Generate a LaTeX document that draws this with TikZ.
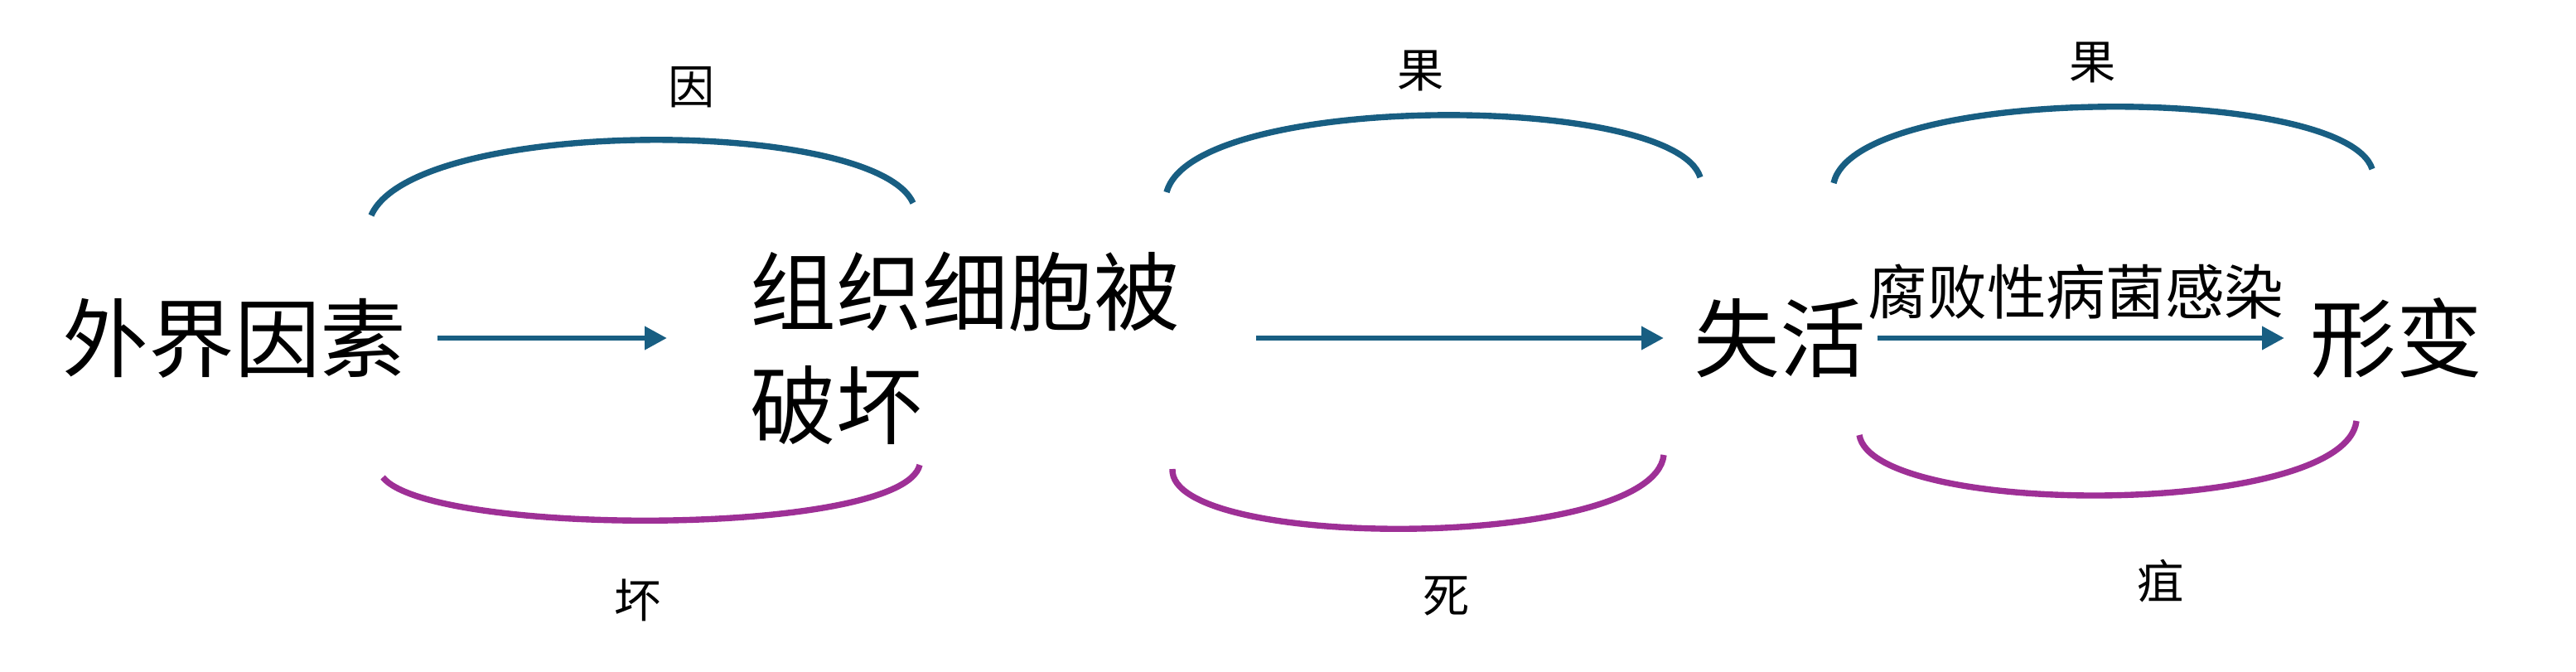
\documentclass[tikz,border=0pt]{standalone}
\usepackage{fontspec}
\setmainfont{Noto Sans CJK SC}
\usepackage{tikz}
\usetikzlibrary{arrows.meta, positioning}
\definecolor{arcblue}{RGB}{24,94,130}
\definecolor{arcpurple}{RGB}{158,48,150}
\tikzset{
    bigtext/.style={inner sep=0pt, align=left, anchor=west, font=\fontsize{29.5}{39}\selectfont},
    midtext/.style={inner sep=0pt, anchor=west, font=\fontsize{20.4}{24}\selectfont},
    smalltext/.style={inner sep=0pt, font=\fontsize{16}{19}\selectfont},
    arrow/.style={line width=1.9pt, arcblue, -{Triangle[length=0.27cm,width=0.27cm]}},
    upper/.style={line width=2.1pt, arcblue},
    lower/.style={line width=2.1pt, arcpurple}
}
\begin{document}
\begin{tikzpicture}
    \useasboundingbox (0,0) rectangle (31.09,8.10);

    \node (wai) [bigtext] at (0.75,4.02) {外界因素};
    \node (zuzhi) [bigtext] at (9.05,3.90) {组织细胞被\\破坏};
    \node (shihuo) [bigtext] at (20.44,4.02) {失活};
    \node (xingbian) [bigtext] at (27.88,4.02) {形变};
    \node (ganran) [midtext] at (22.54,4.58) {腐败性病菌感染};

    \draw [arrow, shorten <=0.37cm, shorten >=1.0cm] (wai.east) -- (wai.east -| zuzhi.west);
    \draw [arrow, shorten <=0.91cm, shorten >=0.36cm] (zuzhi.east |- shihuo.west) -- (shihuo.west);
    \draw [arrow, shorten <=0.13cm, shorten >=0.31cm] (shihuo.east) -- (xingbian.west);

    \coordinate (top1l) at (4.48,5.50);
    \coordinate (top1r) at (11.02,5.65);
    \coordinate (bot1l) at (4.62,2.34);
    \coordinate (bot1r) at (11.10,2.49);
    \coordinate (top2l) at (14.08,5.78);
    \coordinate (top2r) at (20.52,5.96);
    \coordinate (bot2l) at (14.15,2.44);
    \coordinate (bot2r) at (20.08,2.61);
    \coordinate (top3l) at (22.13,5.89);
    \coordinate (top3r) at (28.63,6.06);
    \coordinate (bot3l) at (22.44,2.85);
    \coordinate (bot3r) at (28.44,3.02);

    \draw [upper] (top1l) .. controls (5.0,6.69) and (10.55,6.69) .. (top1r);
    \draw [lower] (bot1l) .. controls (5.2,1.62) and (10.9,1.62) .. (bot1r);
    \draw [upper] (top2l) .. controls (14.4,6.99) and (20.2,6.99) .. (top2r);
    \draw [lower] (bot2l) .. controls (14.1,1.45) and (19.96,1.45) .. (bot2r);
    \draw [upper] (top3l) .. controls (22.4,7.09) and (28.3,7.09) .. (top3r);
    \draw [lower] (bot3l) .. controls (22.6,1.85) and (28.3,1.85) .. (bot3r);

    \node (yin) [smalltext] at (8.35,7.05) {因};
    \node (huai) [smalltext] at (7.70,0.86) {坏};
    \node (guo1) [smalltext] at (17.15,7.25) {果};
    \node (si) [smalltext] at (17.46,0.91) {死};
    \node (guo2) [smalltext] at (25.26,7.35) {果};
    \node (ju) [smalltext] at (26.08,1.09) {疽};
\end{tikzpicture}
\end{document}
